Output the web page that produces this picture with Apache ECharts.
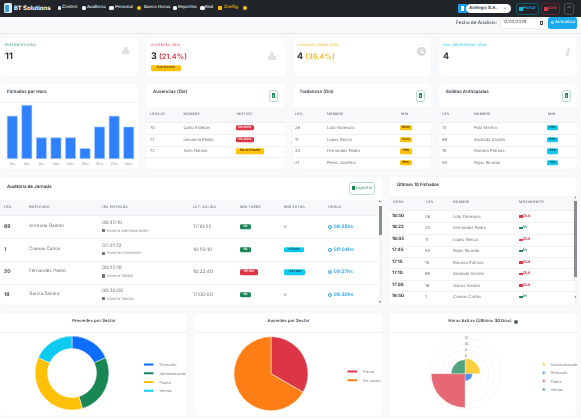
<!DOCTYPE html>
<html lang="es"><head><meta charset="utf-8"><title>BT Solutions</title>
<script src="https://cdn.jsdelivr.net/npm/echarts@6/dist/echarts.min.js"></script>
<style>
html,body{margin:0;padding:0;width:581px;height:418px;overflow:hidden;background:#f8f9fb;font-family:Inter,"Noto Sans",sans-serif;color:#5c6670;text-rendering:geometricPrecision}
#app{position:absolute;left:0;top:0;width:581px;height:418px;overflow:hidden;filter:blur(.3px);text-rendering:geometricPrecision}
svg text{text-rendering:geometricPrecision}
.t{position:absolute;white-space:nowrap;transform:translateY(-50%);line-height:1}
.box{position:absolute;box-sizing:border-box}
.card{position:absolute;background:#fff;border-radius:5px;box-shadow:0 0 2px rgba(0,0,0,.03)}
.hd{font-size:3.5px;letter-spacing:.2px;color:#6c757d;font-weight:500}
.cell{font-size:4.1px;color:#6c757d}
.title{font-size:4.5px;font-weight:600;color:#3a4450}
.badge{position:absolute;transform:translateY(-50%);font-size:3px;line-height:5.4px;height:5.4px;border-radius:1.4px;text-align:center;white-space:nowrap;font-weight:600}
.chart{position:absolute}
.nav{font-size:4.3px;color:#eef0f2;font-weight:500}
</style></head><body><div id="app"></div>
<script>
/* --- data --- */
const hourLabels=["7hs","8hs","9hs","12hs","13hs","15hs","16hs","17hs","18hs"];
const hourValues=[4,5,2,2,2,1,3,4,3];
const presentSectors=["Dirección","Administración","Planta","Ventas"];
const presentValues=[2,3,4,2];
const absentSectors=["Planta","Sin sector"];
const absentValues=[1,2];
const overtimeSectors=["Administración","Dirección","Planta","Ventas"];
const overtimeValues=[5.2,2.5,11.5,4.7];
const overtimeTicks=[6,8,10,12];
const absences=[["70","Quito Esteban","Sin Aviso"],["71","Lecuesta Pedro","Sin Aviso"],["72","Solís Natalia","Día de Estudio"]];
const tardies=[["26","Loto Florencia","160m"],["11","Lopez Renzo","132m"],["20","Fernandez Pedro","115m"],["21","Perez Josefina","60m"]];
const earlyExits=[["13","Pola Marina","89m"],["69","Andrada Gastón","69m"],["10","Romero Patricia","44m"],["55","Rojas Ricardo","14m"]];
const audit=[
 ["69","Andrada Gastón","08:45:10","Horario Administración","17:10:55","Ok","0","08:25hs"],
 ["1","Cuevas Carlos","07:45:12","Horarios Dirección","16:50:10","Ok","+50 min","09:04hs"],
 ["20","Fernandez Pedro","08:55:18","Horario Global","18:22:40","115 min","+142 min","09:27hs"],
 ["16","García Sandra","08:30:00","Horario Ventas","17:00:00","Ok","0","08:30hs"]];
const lastPunches=[
 ["18:50","26","Loto Florencia","Out"],["18:22","20","Fernandez Pedro","In"],["18:05","11","Lopez Renzo","Out"],
 ["17:45","55","Rojas Ricardo","In"],["17:15","10","Romero Patricia","Out"],["17:10","69","Andrada Gastón","Out"],
 ["17:00","16","García Sandra","Out"],["16:50","1","Cuevas Carlos","In"]];

/* --- helpers --- */
const app=document.getElementById('app');
function box(x,y,w,h,css,html){const d=document.createElement('div');d.className='box';d.style.cssText+=`left:${x}px;top:${y}px;width:${w}px;height:${h}px;${css||''}`;if(html)d.innerHTML=html;app.appendChild(d);return d;}
function card(x,y,w,h){const d=document.createElement('div');d.className='card';d.style.cssText=`left:${x}px;top:${y}px;width:${w}px;height:${h}px`;app.appendChild(d);}
function txt(x,y,s,cls,css){const d=document.createElement('div');d.className='t '+(cls||'');d.style.cssText=`left:${x}px;top:${y}px;${css||''}`;d.innerHTML=s;app.appendChild(d);return d;}
function badge(x,y,w,s,bg,fg){const d=document.createElement('div');d.className='badge';d.style.cssText=`left:${x}px;top:${y}px;width:${w}px;background:${bg};color:${fg}`;d.textContent=s;app.appendChild(d);}
function band(x,y,w,h){box(x,y,w,h,'background:#f7f8fa;border-bottom:.4px solid #eceef1');}
function rule(x,y,w,c){box(x,y,w,.4,`background:${c||'#f0f1f3'}`);}
function excel(x,y){box(x,y,9,12,'border:.7px solid #b4dcca;border-radius:2.5px;background:#fff');box(x+3,y+3.4,3.2,5,'background:#198754;border-radius:.4px');box(x+3.7,y+5.6,1.8,2,'background:#c8e6d6');}
function person(x,y,mark){box(x,y+3.2,8,4.8,'background:#dfe1e4;border-radius:3px 3px 1px 1px');box(x+2,y,3.8,3.8,'background:#dfe1e4;border-radius:50%');txt(x+8.2,y+4.5,mark,'','font-size:4.5px;color:#d5d8db');}

/* --- nav --- */
box(0,0,581,16.5,'background:#212529');
box(3.5,3,8.5,10,'background:#d9e8f6;border-radius:1.5px');box(5,4.5,4,7,'background:#3d9bd9;border-radius:1px');
txt(14,8.8,'BT Solutions','','font-size:6px;font-weight:700;color:#fff');
[[62,'Control'],[87,'Auditoría'],[115,'Personal'],[144,'Banco Horas'],[178,'Reportes'],[205,'Red']].forEach(([x,s])=>{txt(x,8,s,'nav');});
[[57.5,3.5],[82,3.5],[109,5],[173,3.5],[200,4.5]].forEach(([x,w])=>box(x,6,w,3.6,'background:#f2f3f5;border-radius:1.5px'));
box(137,5.7,4.4,4.4,'background:#ffc107;border-radius:50%');
box(218,6,4.4,3.6,'background:#ffc107;border-radius:1px');txt(224,8,'Config.','nav','color:#ffc107');
box(243,5.8,4.2,4.2,'background:#ffc107;border-radius:50%');
box(458,4,8.5,9,'background:#1b9ee8;border-radius:1px 0 0 1px');box(460.5,6,3.5,5,'background:#fff');
box(466,4,45,9,'background:#fff;border-radius:4.5px');txt(469,8.5,'Airtlogic S.A.','','font-size:4.3px;font-weight:700;color:#3d4650');txt(503,8.4,'⌄','','font-size:5px;color:#555');
box(516,3,22.5,12,'border:.6px solid #0f5a68;border-radius:3px');box(519,7,3.5,3.5,'background:#14b8d8');txt(523,8.8,'Portal','','font-size:4.3px;font-weight:600;color:#14b8d8');
box(541,3,19,12,'border:.6px solid #6a1f28;border-radius:3px');box(544,7,3.5,3.5,'background:#dc3545');txt(548,8.8,'Salir','','font-size:4.3px;font-weight:600;color:#dc3545');
box(564,3,9.5,12,'border:.6px solid #4a5056;border-radius:3px');txt(566.7,9.6,'⌃','','font-size:5.5px;color:#aaa');

/* --- toolbar --- */
rule(0,33,581,'#e4e6e9');
txt(456,23,'Fecha de Análisis:','','font-size:4.7px;font-weight:600;color:#5f6872');
box(500,17.5,45,11,'background:#fff;border:.4px solid #eceef1;border-radius:2px');txt(503,23,'12/02/2026','','font-size:4.3px;color:#555');box(539.5,21.3,3.4,3.4,'border:.6px solid #444;border-radius:.5px');
box(548,17,29,11.5,'background:#1ba8ee;border-radius:2.5px');txt(555,23,'Actualizar','','font-size:4.3px;font-weight:500;color:#fff');box(551,21,2.6,2.6,'border:.6px solid #fff;border-radius:50%');

/* --- KPI cards --- */
[[0,139],[146,139],[293,138],[439,138]].forEach(([x,w])=>card(x,38,w,38));
txt(5,46,'PRESENTES (DÍA)','','font-size:3.4px;font-weight:500;color:#4aa37a;letter-spacing:.15px');
txt(5,55.5,'11','','font-size:9px;font-weight:700;color:#30363c');person(122,46.5,'✓');
txt(151,46,'AUSENTES (DÍA)','','font-size:3.4px;font-weight:500;color:#e4606d;letter-spacing:.15px');
txt(151,55.5,'3 <span style="color:#dc3545;font-weight:600;font-size:7.4px">(21.4%)</span>','','font-size:9px;font-weight:700;color:#30363c');person(268,52,'×');
badge(151,68.3,30,'Con licencia','#ffc107','#3a3000');
txt(297,46,'LLEGADAS TARDE (DÍA)','','font-size:3.4px;font-weight:500;color:#f5be3a;letter-spacing:.15px');
txt(297,55.5,'4 <span style="color:#f6b72c;font-weight:600;font-size:7.4px">(36.4%)</span>','','font-size:9px;font-weight:700;color:#30363c');
box(417,47,9.4,9.4,'background:#d8dadd;border-radius:50%');box(421.4,48.8,.9,3.6,'background:#fff');box(421.4,52,2.6,.9,'background:#fff');
txt(443,46,'SAL. ANTICIPADAS (DÍA)','','font-size:3.4px;font-weight:500;color:#2fcdee;letter-spacing:.15px');
txt(443,55.5,'4','','font-size:9px;font-weight:700;color:#30363c');
box(567,47.5,3.2,3,'background:#dfe1e4;border-radius:50%');box(566,51,3,5,'background:#dfe1e4;border-radius:1px;transform:skewX(-20deg)');

/* --- middle cards --- */
[[0,139],[146,139],[293,138],[439,138]].forEach(([x,w])=>card(x,84,w,85));
txt(7,93,'Fichadas por Hora','title');rule(0,102,139);
txt(153,93,'Ausencias (Día)','title');excel(269,89.5);
txt(299.5,93,'Tardanzas (Día)','title');excel(416,89.5);
txt(446,93,'Salidas Anticipadas','title');excel(562,89.5);
function sideTable(x,w,cols,heads,rows,ys,render){
 band(x,107,w,16);heads.forEach((h,i)=>txt(cols[i],115,h,'hd'));
 rows.forEach((r,k)=>{txt(cols[0],ys[k],r[0],'cell');txt(cols[1],ys[k],r[1],'cell');render(r,ys[k]);if(k<3)rule(x,ys[k]+5.7,w);});
}
const sideRowY=[128,139.8,151.2,162.8];
sideTable(146,139,[150,183.5,237],['LEGAJO','NOMBRE','MOTIVO'],absences,sideRowY,(r,y)=>{
 if(r[2]==='Sin Aviso')badge(236,y,17.5,r[2],'#dc3545','#fff');else badge(236,y,28,r[2],'#ffc107','#3a3000');});
sideTable(293,138,[295,327,401],['LEG.','NOMBRE','MIN'],tardies,sideRowY,(r,y)=>badge(399.5,y,12.5,r[2],'#ffc107','#3a3000'));
sideTable(439,138,[442,474,548],['LEG.','NOMBRE','MIN'],earlyExits,sideRowY,(r,y)=>badge(547,y,11,r[2],'#0dcaf0','#05323c'));

/* --- audit table --- */
card(0,177,382,128);
txt(7,188,'Auditoría de Jornada','','font-size:4.4px;font-weight:600;color:#2f363d');
box(349,182,26,13,'border:.7px solid #b4dcca;border-radius:3px;background:#fff');box(352,186,2.6,4.4,'background:#198754');txt(355.5,188.5,'Exportar','','font-size:4.3px;color:#2f8f63');
band(0,200,378,16);
[[4,'LEG.'],[29,'EMPLEADO'],[102,'1RA ENTRADA'],[193,'ÚLT. SALIDA'],[240,'MIN TARDE'],[284,'MIN EXTRA'],[328,'HORAS']].forEach(([x,s])=>txt(x,207.5,s,'hd'));
const auditY=[227,249.6,272.4,295];
audit.forEach((r,i)=>{const y=auditY[i];
 txt(4,y,r[0],'','font-size:5px;font-weight:700;color:#4a525a');
 txt(29,y,r[1],'cell','font-size:4.6px');
 txt(102,y-4,r[2],'cell','font-size:4.9px');
 box(102,y+2,3.2,3.2,'background:#6c757d;border-radius:.5px');
 txt(106.5,y+3.6,r[3],'','font-size:3.9px;color:#8d959d');
 txt(193,y,r[4],'cell','font-size:4.9px');
 if(r[5]==='Ok')badge(240,y,11,'Ok','#198754','#fff');else badge(240,y,17.5,r[5],'#dc3545','#fff');
 if(r[6]==='0')txt(284,y,'0','cell');else badge(284,y,r[6].length>7?21:19.5,r[6],'#0dcaf0','#05323c');
 box(328,y-2.1,4.2,4.2,'border:.6px solid #2b9ef0;border-radius:50%');
 txt(333.5,y,r[7],'','font-size:4.9px;font-weight:600;color:#2b9ef0');
 if(i<3)rule(0,y+11.3,378);
});
box(378.5,200,3.5,105,'background:#f4f5f6');box(379,206,2.6,29,'background:#8a8d90');
txt(379,202,'▴','','font-size:3.5px;color:#555');txt(379,302.5,'▾','','font-size:3.5px;color:#555');

/* --- last punches --- */
card(390,177,187,128);
txt(397,186,'Últimas 10 Fichadas','','font-size:4.4px;font-weight:600;color:#2f363d');
band(390,196,184,15);
[[393,'HORA'],[426,'LEG.'],[453,'NOMBRE'],[519,'MOVIMIENTO']].forEach(([x,s])=>txt(x,203.3,s,'hd'));
const punchY=[216.6,228,239.8,251.2,262.6,274.2,285.6,297];
lastPunches.forEach((r,i)=>{const y=punchY[i];
 txt(392,y,r[0],'','font-size:4.4px;font-weight:700;color:#3a4148');
 txt(425,y,r[1],'cell','');txt(453,y,r[2],'cell','');
 const out=r[3]==='Out',c=out?'#dc3545':'#198754';
 box(518.5,y-1.3,4,2.6,`background:${c};border-radius:.5px`);
 txt(523,y,r[3],'',`font-size:4.2px;font-weight:600;color:${c}`);
 if(i<7)rule(390,y+5.7,184);
});
box(574,196,3,109,'background:#f4f5f6');box(574,201,2.8,76,'background:#8a8d90');
txt(574.4,198,'▴','','font-size:3.2px;color:#555');txt(574.4,298,'▾','','font-size:3.2px;color:#555');

/* --- bottom cards --- */
[[0,187],[195,187],[390,187]].forEach(([x,w])=>{card(x,313,w,103);rule(x,331.5,w);});
txt(94,322,'Presentes por Sector','title','font-size:4.3px;transform:translate(-50%,-50%)');
txt(288.5,322,'Ausentes por Sector','title','font-size:4.3px;transform:translate(-50%,-50%)');
txt(480,322,'Horas Extras (Últimos 30 Días)','title','font-size:4.3px;transform:translate(-50%,-50%)');
box(513.5,319.8,4.4,4.4,'background:#59626b;border-radius:50%');

/* --- charts --- */
function mount(x,y,w,h){const d=document.createElement('div');d.className='chart';d.style.cssText=`left:${x}px;top:${y}px;width:${w}px;height:${h}px`;app.appendChild(d);return echarts.init(d,null,{renderer:'svg'});}
const legendText={fontSize:3.8,color:'#77808a',fontFamily:'Inter',lineHeight:4,padding:0};

mount(0,103,139,66).setOption({animation:false,
 grid:{left:5,right:3,top:2,bottom:10},
 xAxis:{type:'category',data:hourLabels,axisLine:{show:false},axisTick:{show:false},axisLabel:{fontSize:3.4,color:'#868e96',margin:3.5,fontFamily:'Inter',interval:0}},
 yAxis:{type:'value',min:0,max:5,interval:1,show:false,splitLine:{show:false}},
 series:[{type:'bar',data:hourValues,barWidth:10.8,itemStyle:{color:'#2f80fb',borderColor:'#b5d2fe',borderWidth:.6}}]});

mount(0,332,187,84).setOption({animation:false,color:['#0d6efd','#198754','#ffc107','#0dcaf0'],
 legend:{orient:'vertical',left:142,top:29.6,icon:'rect',itemWidth:11.5,itemHeight:4,itemGap:2.7,textStyle:legendText,padding:0},
 series:[{type:'pie',center:[72,41],radius:[24.5,37],startAngle:90,label:{show:false},silent:true,
  itemStyle:{borderColor:'#fff',borderWidth:.5},
  data:presentSectors.map((name,i)=>({name,value:presentValues[i]}))}]});

mount(195,332,187,84).setOption({animation:false,color:['#dc3545','#fd7e14'],
 legend:{orient:'vertical',left:150.5,top:36.5,icon:'rect',itemWidth:11.5,itemHeight:4,itemGap:2.7,textStyle:legendText,padding:0},
 series:[{type:'pie',center:[76,41.7],radius:[0,37],startAngle:90,label:{show:false},silent:true,
  itemStyle:{borderColor:'#fff',borderWidth:.5},
  data:absentSectors.map((name,i)=>({name,value:absentValues[i]}))}]});

const overtimeColors=['rgba(255,193,7,.78)','rgba(13,110,253,.75)','rgba(220,53,69,.75)','rgba(25,135,84,.75)'];
mount(390,332,187,84).setOption({animation:false,
 legend:{orient:'vertical',left:151,top:29.6,icon:'circle',itemWidth:3.6,itemHeight:3.6,itemGap:2.7,textStyle:legendText,padding:0,
  data:overtimeSectors},
 polar:{center:[75,41.7],radius:35.3},
 angleAxis:{type:'category',data:overtimeSectors,startAngle:90,axisLine:{show:false},axisTick:{show:false},axisLabel:{show:false},splitLine:{show:false}},
 radiusAxis:{type:'value',min:0,max:12,interval:2,axisLine:{show:false},axisTick:{show:false},
  splitLine:{show:true,lineStyle:{color:'#ececee',width:.5}},
  axisLabel:{fontSize:3.6,color:'#777f87',margin:-1.2,align:'center',verticalAlign:'middle',fontFamily:'Inter',
   formatter:v=>overtimeTicks.includes(v)?String(v):''}},
 series:overtimeSectors.map((name,i)=>({type:'bar',coordinateSystem:'polar',name,stack:'one',barCategoryGap:'0%',z:3,
  itemStyle:{color:overtimeColors[i],borderColor:'rgba(255,255,255,.6)',borderWidth:.5},
  data:overtimeSectors.map((_,k)=>k===i?overtimeValues[i]:'-')}))});
</script></body></html>
